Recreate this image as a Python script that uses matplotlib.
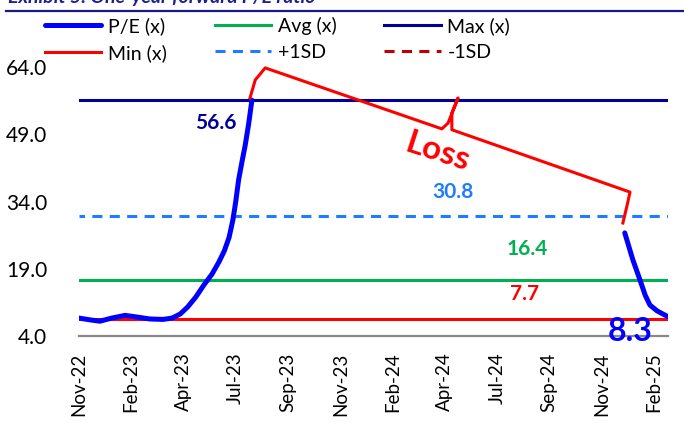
import numpy as np
import matplotlib
matplotlib.use("Agg")
import matplotlib.pyplot as plt
from matplotlib.lines import Line2D

plt.rcParams['font.family'] = ['Lato', 'DejaVu Sans']

# weekly index, Nov-22 .. Feb-25 (124 weeks)
tick_pos = [0, 11, 22, 33, 44, 55, 66, 77, 88, 99, 110, 121]
tick_labels = ['Nov-22', 'Feb-23', 'Apr-23', 'Jul-23', 'Sep-23', 'Nov-23',
               'Feb-24', 'Apr-24', 'Jul-24', 'Sep-24', 'Nov-24', 'Feb-25']

# P/E, first run (before the loss period)
pe_x1 = [0, 2.3, 4.4, 6.9, 9.7, 12.4, 14.9, 17.7, 19.6, 21.3, 22.9, 24.6, 26.3,
         28.0, 29.5, 30.6, 31.6, 32.4, 33.0, 33.6, 34.3, 35.0, 35.7, 36.4]
pe_y1 = [8.0, 7.6, 7.3, 8.0, 8.6, 8.2, 7.8, 7.7, 8.0, 8.9, 10.5, 12.7, 15.4,
         17.8, 20.6, 23.0, 26.0, 29.9, 34.0, 38.8, 42.8, 46.6, 51.2, 56.6]
# P/E, after the loss period
pe_x2 = [114.9, 116.6, 118.1, 119.2, 120.2, 121.7, 124]
pe_y2 = [27.0, 21.0, 16.5, 13.1, 10.9, 9.6, 8.3]

pe_avg = 16.4
pe_max = 56.6
pe_min = 7.7
pe_sd = 14.4
pe_p1 = 30.8
pe_m1 = 2.0

fig = plt.figure(figsize=(6.84, 4.23), dpi=100)
ax = fig.add_axes([79/684, 1-336/423, (668-79)/684, (336-67)/423])

xs = np.array([0, 124])
c_pe = '#0000FF'
c_avg = '#00B050'
c_max = '#000099'
c_min = '#FF0000'
c_p1 = '#1F7BFF'
c_m1 = '#C00000'

ax.plot(xs, [pe_max]*2, color=c_max, lw=2.2, zorder=2)
ax.plot(xs, [pe_avg]*2, color=c_avg, lw=2.2, zorder=2)
ax.plot(xs, [pe_p1]*2, color=c_p1, lw=2.2, ls=(1.5, (3.3, 2.4)), zorder=2)
ax.plot(xs, [pe_m1]*2, color=c_m1, lw=2.2, ls=(0, (3.3, 2.4)), zorder=2)
ax.plot(xs, [pe_min]*2, color=c_min, lw=2.2, zorder=3)
ax.plot(pe_x1, pe_y1, color=c_pe, lw=3.6, solid_capstyle='round', zorder=4)
ax.plot(pe_x2, pe_y2, color=c_pe, lw=3.6, solid_capstyle='round', zorder=4)

# bracket over the gap
x0, y0 = pe_x1[-1], pe_y1[-1]
x1, y1 = pe_x2[0], pe_y2[0]
bx = [x0 - 0.4, x0 + 0.7, x0 + 2.8, 76.4, 77.7, 79.8, 78.5, 78.5, x1 + 1.1, x1 + 0.5, x1 - 0.4]
by = [y0 + 0.5, y0 + 4.5, y0 + 7.2, 50.2, 51.5, 57.1, 53.7, 50.0, 36.1, 33.2, y1 + 2.2]
ax.plot(bx, by, color=c_min, lw=2.2, clip_on=False, zorder=5)
ax.text(75.6, 45.0, 'Loss', color=c_min, fontsize=24, fontweight='bold',
        rotation=-18, ha='center', va='center')

ax.text(28.8, pe_max - 5.1, f'{pe_max:.1f}', color=c_max, fontsize=15,
        fontweight='bold', ha='center', va='center')
ax.text(78.7, pe_p1 + 5.3, f'{pe_p1:.1f}', color=c_p1, fontsize=15,
        fontweight='bold', ha='center', va='center')
ax.text(94.3, pe_avg + 7.0, f'{pe_avg:.1f}', color=c_avg, fontsize=15,
        fontweight='bold', ha='center', va='center')
ax.text(93.9, pe_min + 5.7, f'{pe_min:.1f}', color=c_min, fontsize=15,
        fontweight='bold', ha='center', va='center')
ax.text(116.0, 5.1, f'{pe_y2[-1]:.1f}', color=c_pe, fontsize=23,
        fontweight='bold', ha='center', va='center', zorder=6)

ax.set_xlim(0, 124)
ax.set_ylim(4, 64)
ax.set_yticks([4, 19, 34, 49, 64])
ax.set_yticklabels([f'{v:.1f}' for v in [4, 19, 34, 49, 64]])
ax.set_xticks(tick_pos)
ax.set_xticklabels(tick_labels, rotation=90)
ax.tick_params(axis='y', length=0, pad=23, labelsize=15)
ax.tick_params(axis='x', length=0, pad=12, labelsize=13.5)
for s in ['left', 'top', 'right']:
    ax.spines[s].set_visible(False)
ax.spines['bottom'].set_color('#888888')
ax.spines['bottom'].set_linewidth(1.6)
ax.spines['bottom'].set_zorder(1)

handles = [
    Line2D([], [], color=c_pe, lw=3.6, solid_capstyle='round'),
    Line2D([], [], color=c_min, lw=2.2),
    Line2D([], [], color=c_avg, lw=2.2),
    Line2D([], [], color=c_p1, lw=2.2, ls=(0, (3.3, 2.4))),
    Line2D([], [], color=c_max, lw=2.2),
    Line2D([], [], color=c_m1, lw=2.2, ls=(0, (3.3, 2.4))),
]
names = ['P/E (x)', 'Min (x)', 'Avg (x)', '+1SD', 'Max (x)', '-1SD']
fig.legend(handles, names, ncol=3, loc='upper left', bbox_to_anchor=(45/684, 1-17/423),
           frameon=False, fontsize=14, handlelength=2.9, handletextpad=0.35,
           columnspacing=2.45, labelspacing=0.45, borderpad=0, borderaxespad=0)

fig.text(8/684, 1-3/423, 'Exhibit 5: One-year forward P/E ratio', color='#1F1F8C',
         fontsize=14, fontweight='bold', fontstyle='italic', ha='left', va='baseline')
fig.add_artist(Line2D([6/684, 1], [1-11/423]*2, color='#1A1A80', lw=1.6))

fig.savefig('out.png', dpi=100)
